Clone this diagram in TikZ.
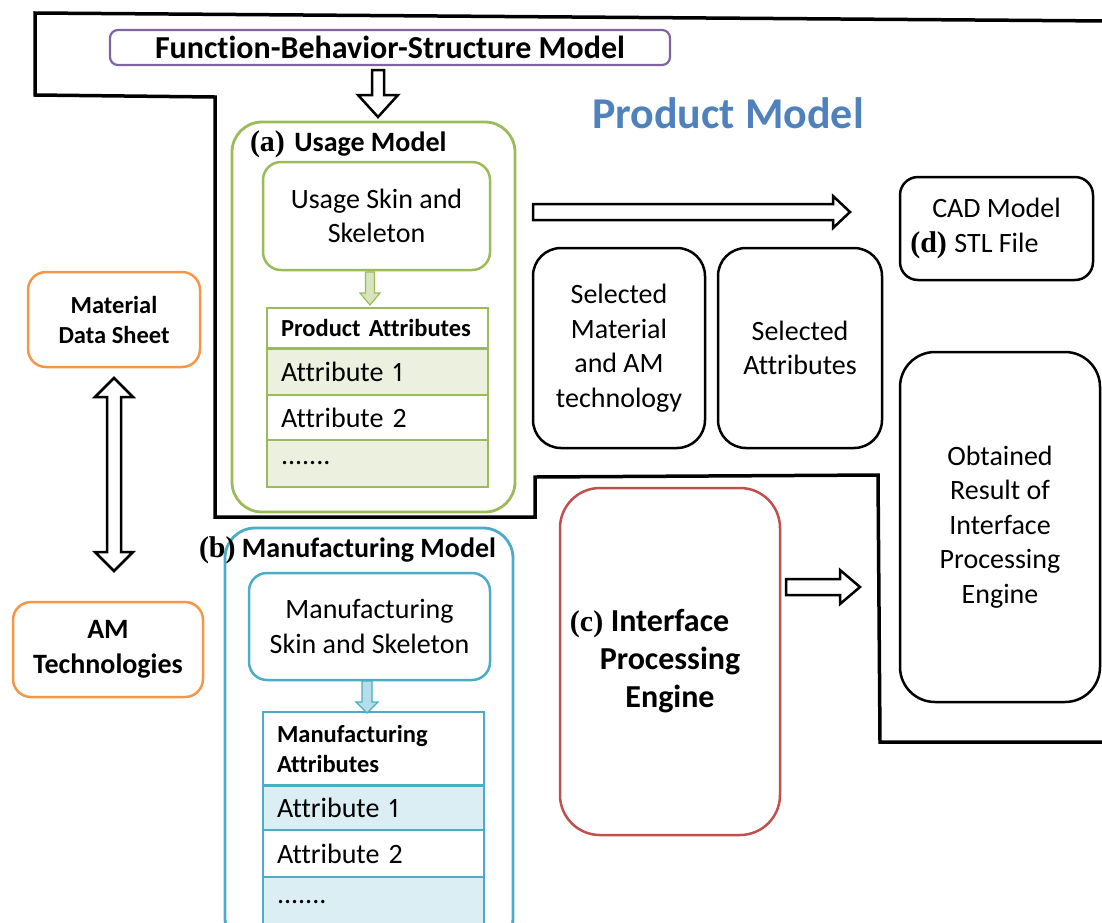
\documentclass[tikz,border=0pt]{standalone}
\usepackage{fontspec}
\setmainfont{Carlito}[Numbers=Proportional, Ligatures=NoCommon]
\newfontfamily\labelfont{Liberation Serif}
\usetikzlibrary{positioning,calc}

\definecolor{fbspurple}{HTML}{8064A2}
\definecolor{usegreen}{HTML}{9BBB59}
\definecolor{usegreenlight}{HTML}{EBF1DE}
\definecolor{usegreenarrow}{HTML}{D7E4BD}
\definecolor{mfgblue}{HTML}{4BACC6}
\definecolor{mfgbluelight}{HTML}{DAEEF3}
\definecolor{mfgbluearrow}{HTML}{B7DEE8}
\definecolor{amorange}{HTML}{F79646}
\definecolor{ipered}{HTML}{C0504D}
\definecolor{titleblue}{HTML}{4F81BD}

\newcommand{\normaltext}{\fontsize{28}{34.5}\selectfont}
\newcommand{\smallbold}{\fontsize{24.5}{30}\selectfont\bfseries}
\newcommand{\tagfont}{\labelfont\bfseries\fontsize{30}{30}\selectfont}

% hollow block arrows: from, to, shaft half width, head half width, head length
\newcommand{\hollowarrow}[6][]{%
  \draw[#1] ($(#2)!#4!90:(#3)$) -- ($(#3)!#6!(#2)!#4!90:(#3)$)
    -- ($(#3)!#6!(#2)!#5!90:(#3)$) -- (#3)
    -- ($(#3)!#6!(#2)!#5!-90:(#3)$) -- ($(#3)!#6!(#2)!#4!-90:(#3)$)
    -- ($(#2)!#4!-90:(#3)$) -- cycle;}
\newcommand{\hollowdoublearrow}[6][]{%
  \draw[#1] (#2) -- ($(#2)!#6!(#3)!#5!90:(#3)$) -- ($(#2)!#6!(#3)!#4!90:(#3)$)
    -- ($(#3)!#6!(#2)!#4!90:(#3)$) -- ($(#3)!#6!(#2)!#5!90:(#3)$) -- (#3)
    -- ($(#3)!#6!(#2)!#5!-90:(#3)$) -- ($(#3)!#6!(#2)!#4!-90:(#3)$)
    -- ($(#2)!#6!(#3)!#4!-90:(#3)$) -- ($(#2)!#6!(#3)!#5!-90:(#3)$) -- cycle;}

\begin{document}
\begin{tikzpicture}[x=1pt,y=-1pt,
  every node/.style={inner sep=0pt, outer sep=0pt},
  modelbox/.style={draw, line width=2.8pt, rounded corners=30pt},
  skinbox/.style={draw, line width=2.5pt, rounded corners=18pt, align=center, font=\normaltext},
  plainbox/.style={draw=black, line width=2.5pt, align=center, font=\normaltext},
  sourcebox/.style={draw=amorange, line width=2.5pt, rounded corners=18pt, align=center, font=\smallbold},
  attrrow/.style={draw, line width=1.3pt, text width=193pt, inner xsep=14pt, align=left, font=\normaltext},
  hollow/.style={draw=black, line width=2.5pt, fill=white, line join=miter},
  outline/.style={line width=3.5pt, line join=miter}
]
\useasboundingbox (0,0) rectangle (1102,922);
\clip (0,0) rectangle (1102,922);

% product model region
\draw[outline] (1110,21) -- (35,13) -- (35,95) -- (215,97) -- (215,517) -- (535,517)
  -- (535,477) -- (878,475) -- (880,742) -- (1110,742);
\node[font=\fontsize{44}{50}\selectfont\bfseries, text=titleblue] (pmtitle) at (728,113) {Product Model};

\node[draw=fbspurple, line width=2.2pt, rounded corners=8pt, minimum width=560pt, minimum height=35pt,
  font=\fontsize{32}{38}\selectfont\bfseries] (fbs) at (390,47.5) {Function-Behavior-Structure Model};

% (a) usage model
\node[modelbox, draw=usegreen, minimum width=283pt, minimum height=390pt] (usage) at (373.5,317) {};
\node[anchor=west, font=\normaltext\bfseries] (usagelbl) at (250,144) {{\tagfont (a)}\hspace{3pt} Usage Model};
\node[skinbox, draw=usegreen, minimum width=227pt, minimum height=108pt] (uskin) at (376.5,216) {Usage Skin and\\Skeleton};
\node[attrrow, draw=usegreen, minimum height=40pt, anchor=north, font=\smallbold] (uhead) at (377.5,308) {Product Attributes};
\node[attrrow, draw=usegreen, fill=usegreenlight, minimum height=47pt, below=0pt of uhead] (uattr1) {Attribute 1};
\node[attrrow, draw=usegreen, minimum height=45pt, below=0pt of uattr1] (uattr2) {Attribute 2};
\node[attrrow, draw=usegreen, fill=usegreenlight, minimum height=47pt, below=0pt of uattr2] (uattr3) {.......};
\draw[usegreen, line width=3pt] (uhead.south west) -- (uhead.south east);

% (b) manufacturing model
\node[modelbox, draw=mfgblue, minimum width=288pt, minimum height=420pt, anchor=north] (mfg) at (369,528) {};
\node[anchor=west, font=\normaltext\bfseries] (mfglbl) at (199,550) {{\tagfont (b)} Manufacturing Model};
\node[skinbox, draw=mfgblue, minimum width=241pt, minimum height=107pt] (mskin) at (369.5,626.5) {Manufacturing\\Skin and Skeleton};
\node[attrrow, draw=mfgblue, minimum height=73pt, anchor=north, font=\smallbold] (mhead) at (373.5,712) {Manufacturing\\Attributes};
\node[attrrow, draw=mfgblue, fill=mfgbluelight, minimum height=45pt, below=0pt of mhead] (mattr1) {Attribute 1};
\node[attrrow, draw=mfgblue, minimum height=47pt, below=0pt of mattr1] (mattr2) {Attribute 2};
\node[attrrow, draw=mfgblue, fill=mfgbluelight, minimum height=50pt, below=0pt of mattr2] (mattr3) {.......};
\draw[mfgblue, line width=3pt] (mhead.south west) -- (mhead.south east);

% material and technology sources
\node[sourcebox, minimum width=172pt, minimum height=95pt] (mds) at (114,319.5) {Material\\Data Sheet};
\node[sourcebox, minimum width=190pt, minimum height=95pt, font=\normaltext\bfseries] (amt) at (108,649.5) {AM\\Technologies};

% selections and results
\node[plainbox, rounded corners=28pt, minimum width=172pt, minimum height=200pt] (selmat) at (619,348) {Selected\\Material\\and AM\\technology};
\node[plainbox, rounded corners=28pt, minimum width=164pt, minimum height=200pt] (selattr) at (800,348) {Selected\\Attributes};
\node[plainbox, rounded corners=18pt, minimum width=193pt, minimum height=103pt] (cad) at (996.5,228.5) {CAD Model\\\llap{\tagfont (d) }STL File};
\node[plainbox, rounded corners=35pt, minimum width=200pt, minimum height=350pt] (result) at (1000,527) {Obtained\\Result of\\Interface\\Processing\\Engine};

% (c) interface processing engine
\node[draw=ipered, line width=2.5pt, rounded corners=40pt, minimum width=220pt, minimum height=347pt, align=center,
  font=\fontsize{32}{38}\selectfont\bfseries] (ipe) at (670,661.5) {\llap{\tagfont (c) }Interface\\Processing\\Engine};

% arrows
\coordinate (fbsout) at (378,70);
\coordinate (usagein) at (378,117);
\coordinate (usageout) at (533,212);
\coordinate (cadin) at (850,212);
\coordinate (ipeout) at (786,587);
\coordinate (resultin) at (860,587);
\coordinate (mdsout) at (114,378);
\coordinate (amtin) at (114,571);
\coordinate (uskinout) at (370,272);
\coordinate (uheadin) at (370,305);
\coordinate (mskinout) at (367,681);
\coordinate (mheadin) at (367,713);
\hollowarrow[hollow]{fbsout}{usagein}{6pt}{20pt}{22pt}
\hollowarrow[hollow]{usageout}{cadin}{8pt}{16pt}{17pt}
\hollowarrow[hollow]{ipeout}{resultin}{8pt}{17pt}{20pt}
\hollowdoublearrow[hollow]{mdsout}{amtin}{7pt}{19pt}{19pt}
\hollowarrow[draw=usegreen, fill=usegreenarrow, line width=1.2pt]{uskinout}{uheadin}{4.5pt}{10pt}{12pt}
\hollowarrow[draw=mfgblue, fill=mfgbluearrow, line width=1.2pt]{mskinout}{mheadin}{5pt}{11pt}{11pt}
\end{tikzpicture}
\end{document}
